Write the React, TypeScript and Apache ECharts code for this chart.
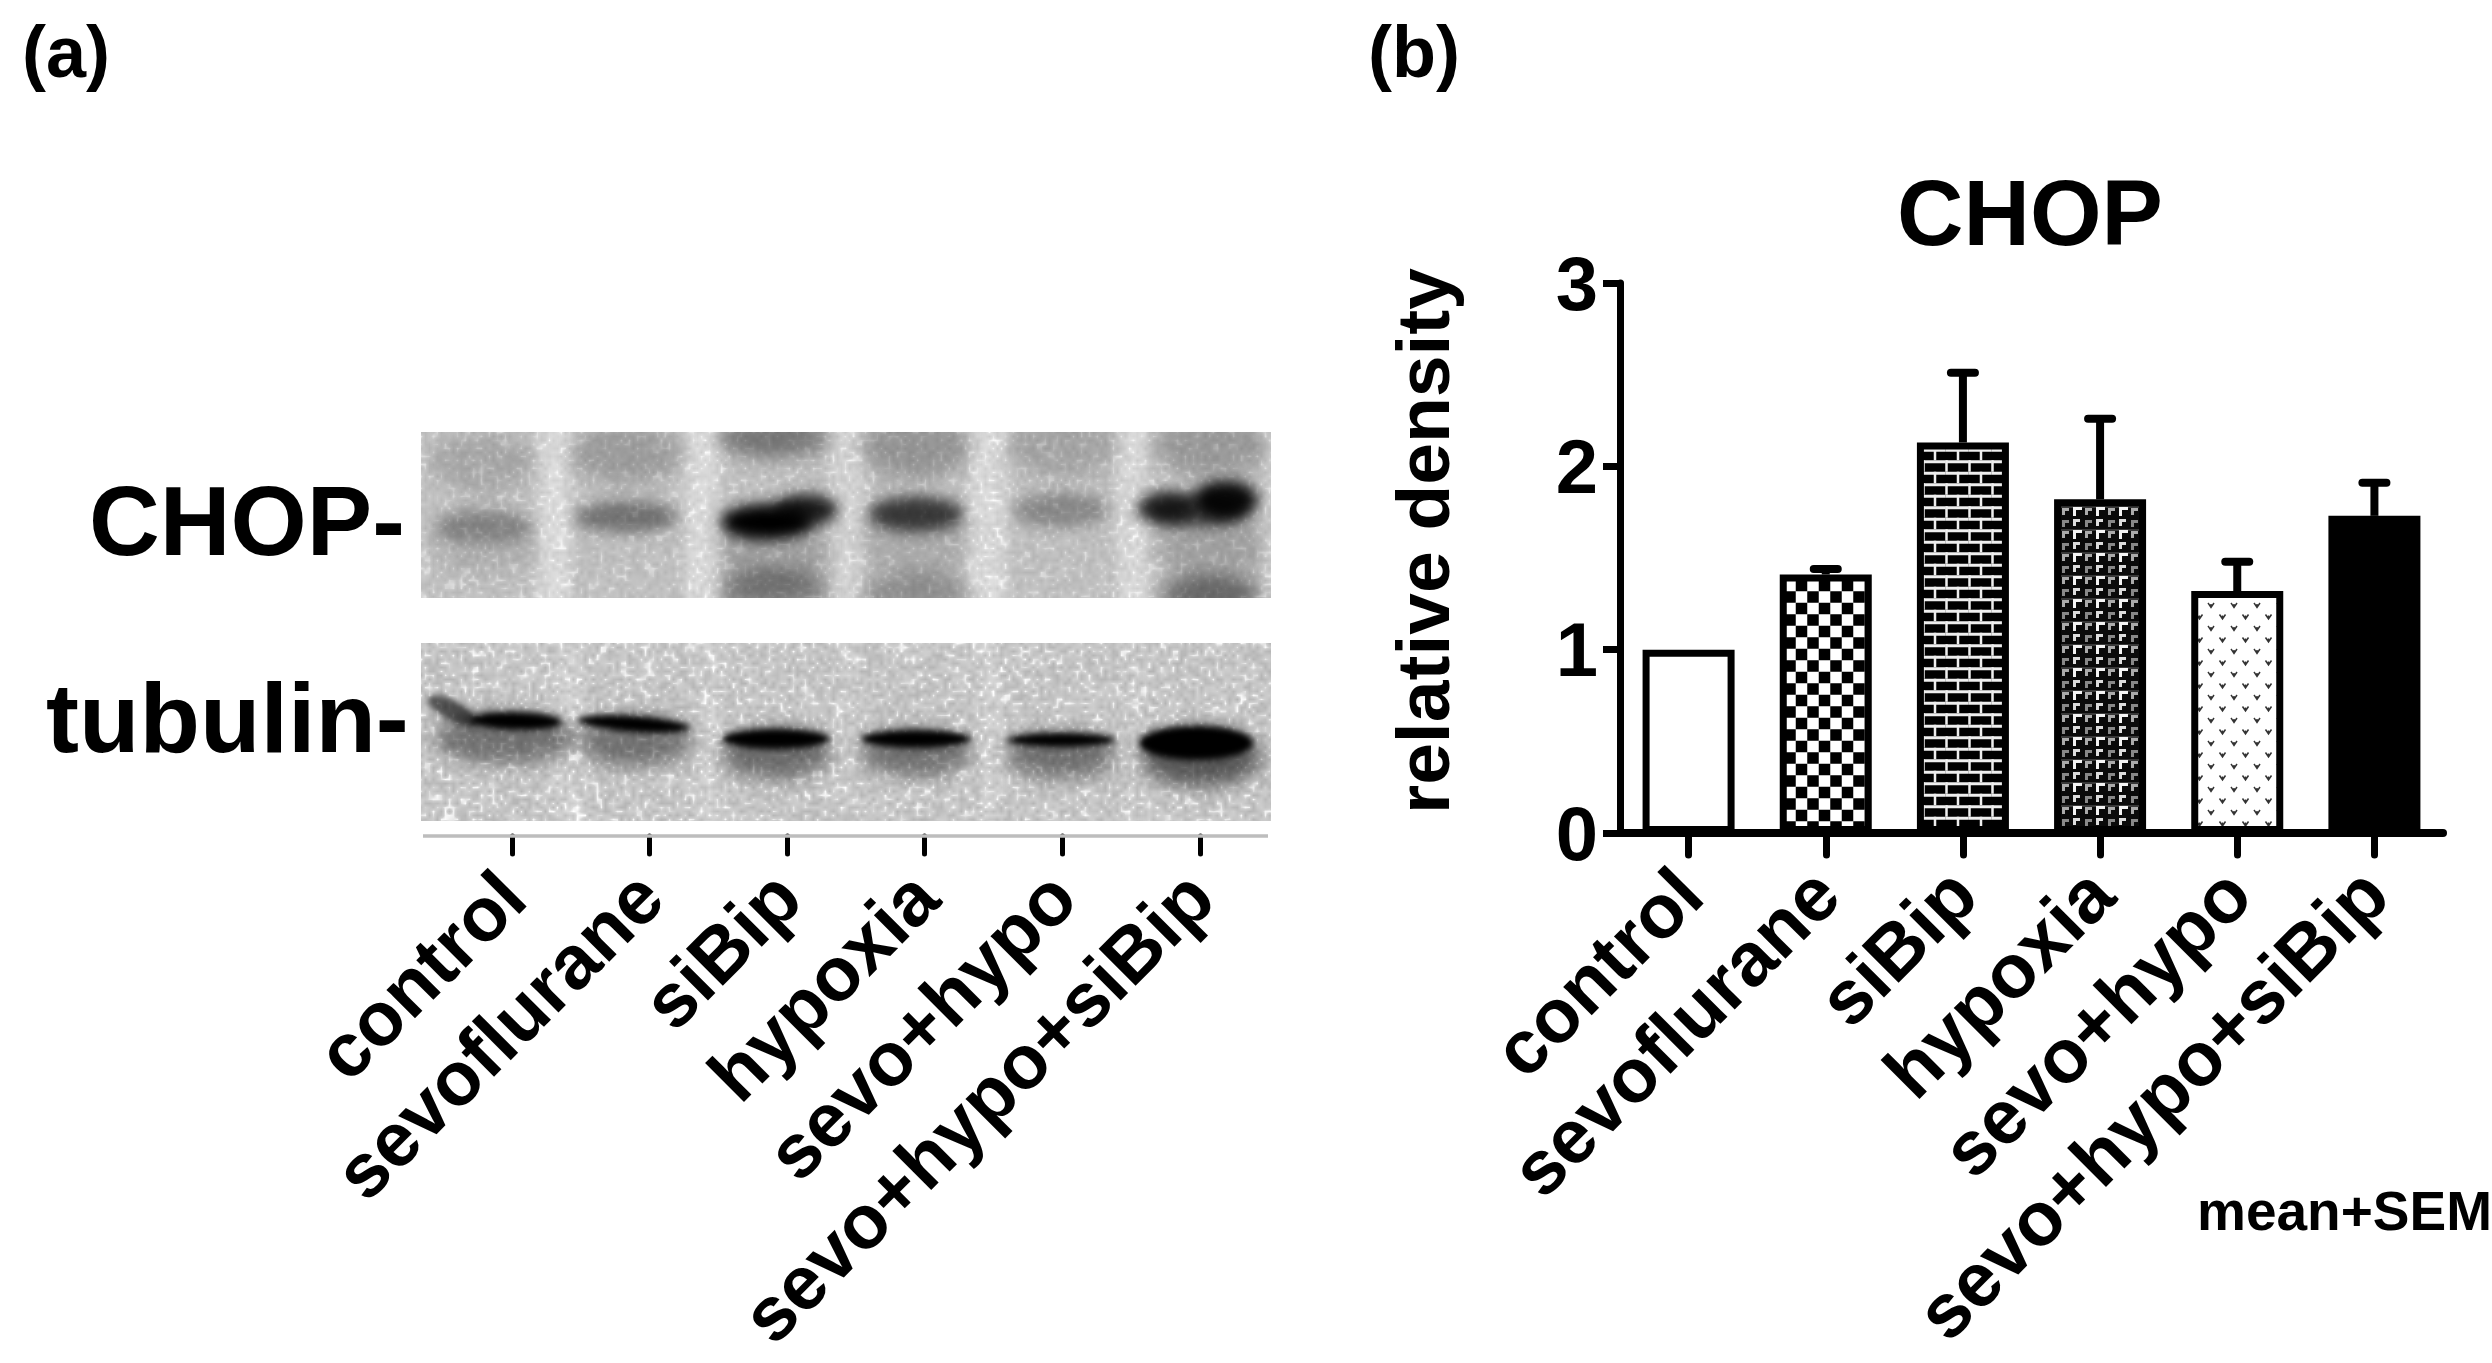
import React, { useEffect, useRef } from "react";
import * as echarts from "echarts";

const categories = ["control", "sevoflurane", "siBip", "hypoxia", "sevo+hypo", "sevo+hypo+siBip"];
const chopMeans = [1.0, 1.41, 2.13, 1.82, 1.32, 1.73];
const chopSem = [0, 0.03, 0.38, 0.44, 0.16, 0.18];
const yTicks = [0, 1, 2, 3];

// Estimated darkness (0..1) of the bands read from the two blots, one per lane.
const chopBandDarkness = [0.42, 0.6, 1, 0.8, 0.48, 0.95];
const tubulinBandDarkness = [1, 1, 1, 1, 1, 1];

const FONT = '"Liberation Sans", Arial, sans-serif';
const W = 2492;
const H = 1363;

type Blob = [number, number, number, number, number, number?];

function paintBlot(
  w: number,
  h: number,
  base: number,
  gaps: number[][],
  smears: Blob[],
  bands: Blob[],
  bandBlur: number,
  grain: number,
  seed: number
) {
  const c = document.createElement("canvas");
  c.width = w;
  c.height = h;
  const ctx = c.getContext("2d")!;
  ctx.fillStyle = `rgb(${base},${base},${base})`;
  ctx.fillRect(0, 0, w, h);
  ctx.filter = "blur(7px)";
  for (const [a, b, v] of gaps) {
    ctx.fillStyle = `rgba(235,235,235,${v})`;
    ctx.fillRect(a, -20, b - a, h + 40);
  }
  const ell = (blobs: Blob[], blur: number) => {
    for (const [x, y, rx, ry, alpha, tilt] of blobs) {
      ctx.filter = `blur(${blur}px)`;
      ctx.fillStyle = `rgba(0,0,0,${alpha})`;
      ctx.beginPath();
      ctx.ellipse(x, y, rx, ry, tilt || 0, 0, Math.PI * 2);
      ctx.fill();
    }
  };
  ell(smears, 9);
  ell(bands, bandBlur);
  ctx.filter = "none";
  // Deterministic film grain, purely a texture of the photographed blot.
  const img = ctx.getImageData(0, 0, w, h);
  const gw = Math.ceil(w / 4) + 2;
  const gh = Math.ceil(h / 4) + 2;
  const g = new Float32Array(gw * gh);
  let s = seed;
  for (let i = 0; i < g.length; i++) {
    s = (s * 1664525 + 1013904223) >>> 0;
    g[i] = s / 4294967296 - 0.5;
  }
  for (let y = 0; y < h; y++) {
    for (let x = 0; x < w; x++) {
      const fx = x / 4;
      const fy = y / 4;
      const ix = Math.floor(fx);
      const iy = Math.floor(fy);
      const tx = fx - ix;
      const ty = fy - iy;
      const n =
        g[iy * gw + ix] * (1 - tx) * (1 - ty) +
        g[iy * gw + ix + 1] * tx * (1 - ty) +
        g[(iy + 1) * gw + ix] * (1 - tx) * ty +
        g[(iy + 1) * gw + ix + 1] * tx * ty;
      const i = (y * w + x) * 4;
      const v = img.data[i];
      const k = v / 255;
      const d = n * grain * k + (n > 0.2 ? (n - 0.2) * grain * 3 * k : 0);
      const nv = Math.max(0, Math.min(255, v + d));
      img.data[i] = img.data[i + 1] = img.data[i + 2] = nv;
    }
  }
  ctx.putImageData(img, 0, 0);
  return c.toDataURL();
}

function chopBlot() {
  const d = chopBandDarkness;
  return paintBlot(
    850,
    166,
    193,
    [[117, 150, 0.6], [264, 300, 0.6], [410, 442, 0.45], [548, 586, 0.6], [697, 726, 0.6], [-10, 5, 0.2], [842, 860, 0.3]],
    [
      [62, 30, 52, 30, 0.12],
      [205, 22, 55, 30, 0.18],
      [352, 6, 55, 20, 0.38],
      [495, 15, 55, 32, 0.22],
      [640, 15, 55, 30, 0.14],
      [790, 15, 55, 30, 0.2],
      [352, 158, 55, 22, 0.34],
      [495, 162, 55, 22, 0.24],
      [790, 162, 50, 18, 0.46],
      [62, 110, 52, 35, 0.08],
      [352, 120, 55, 40, 0.16],
      [495, 110, 52, 40, 0.1],
      [790, 115, 52, 38, 0.16],
    ],
    [
      [62, 95, 48, 17, d[0] * 0.62],
      [205, 85, 52, 16, d[1] * 0.68],
      [345, 90, 46, 18, d[2]],
      [385, 78, 32, 16, 0.85 * d[2]],
      [495, 82, 48, 18, d[3] * 0.85],
      [640, 78, 48, 18, d[4] * 0.6],
      [745, 76, 30, 16, 0.72],
      [805, 68, 32, 20, d[5]],
      [775, 78, 50, 16, 0.6],
    ],
    7,
    30,
    12345
  );
}

function tubulinBlot() {
  const d = tubulinBandDarkness;
  return paintBlot(
    850,
    178,
    199,
    [[137, 160, 0.35], [281, 298, 0.35], [417, 437, 0.2], [560, 578, 0.3], [705, 720, 0.15]],
    [
      [85, 95, 72, 26, 0.42],
      [215, 98, 55, 26, 0.42],
      [355, 110, 55, 26, 0.45],
      [495, 110, 55, 24, 0.42],
      [640, 112, 55, 24, 0.42],
      [780, 114, 60, 30, 0.55],
    ],
    [
      [32, 68, 28, 10, 0.6, 0.5],
      [95, 78, 46, 9, d[0], 0.03],
      [213, 81, 56, 8, d[1], 0.07],
      [355, 96, 54, 10, d[2]],
      [495, 96, 55, 9, d[3]],
      [640, 97, 54, 7, d[4]],
      [775, 100, 57, 17, d[5]],
    ],
    3,
    48,
    98765
  );
}

function tile(
  size: number,
  ox: number,
  oy: number,
  bg: string,
  draw: (ctx: CanvasRenderingContext2D) => void
) {
  const c = document.createElement("canvas");
  c.width = size;
  c.height = size;
  const ctx = c.getContext("2d")!;
  ctx.fillStyle = bg;
  ctx.fillRect(0, 0, size, size);
  for (const dx of [-size, 0, size]) {
    for (const dy of [-size, 0, size]) {
      ctx.save();
      ctx.translate(ox + dx, oy + dy);
      draw(ctx);
      ctx.restore();
    }
  }
  return { image: c, imageWidth: size, imageHeight: size, repeat: "repeat" };
}

function barFills(): any[] {
  const checker = tile(23, 13.25, 16.25, "#fff", (ctx) => {
    ctx.fillStyle = "#000";
    ctx.fillRect(0, 0, 11.5, 11.5);
    ctx.fillRect(11.5, 11.5, 11.5, 11.5);
  });
  const brick = tile(23, 13.25, 0.25, "#000", (ctx) => {
    ctx.fillStyle = "#eee";
    ctx.fillRect(0, 0, 23, 3);
    ctx.fillRect(0, 11.5, 23, 3);
    ctx.fillRect(0, 0, 2.5, 11.5);
    ctx.fillRect(11.5, 11.5, 2.5, 11.5);
  });
  const gamma = (ctx: CanvasRenderingContext2D, x: number, y: number, s: number, t: number, col: string) => {
    ctx.fillStyle = col;
    ctx.fillRect(x, y, s, t);
    ctx.fillRect(x, y, t, s);
  };
  const weave = tile(23, 3, 1, "#0a0a0a", (ctx) => {
    ctx.fillStyle = "#666";
    ctx.fillRect(-3, -0.5, 23, 1);
    gamma(ctx, 0, 0, 9, 3, "#f4f4f4");
    gamma(ctx, 12, 1, 7, 3, "#aaa");
    gamma(ctx, 0, 12, 7, 3, "#ddd");
    gamma(ctx, 12, 13, 7, 3, "#888");
  });
  const mark = (ctx: CanvasRenderingContext2D, x: number, y: number) => {
    ctx.strokeStyle = "#333";
    ctx.lineWidth = 1.5;
    ctx.beginPath();
    ctx.moveTo(x - 3, y - 2);
    ctx.lineTo(x, y + 2.5);
    ctx.lineTo(x + 3, y - 2);
    ctx.moveTo(x, y - 1);
    ctx.lineTo(x, y + 2.5);
    ctx.stroke();
  };
  const hearts = tile(23, 3, 7, "#fff", (ctx) => {
    mark(ctx, 0, 0);
    mark(ctx, 11.5, 11.5);
  });
  return ["#fff", checker, brick, weave, hearts, "#000"];
}

const renderErrorBar = (params: any, api: any) => {
  const idx = api.value(0);
  const mean = api.value(1);
  const sem = api.value(2);
  if (!sem) return { type: "group", children: [] };
  const base = api.coord([idx, mean]);
  const top = api.coord([idx, mean + sem]);
  const style = { stroke: "#000", lineWidth: 8, lineCap: "round" };
  return {
    type: "group",
    children: [
      { type: "line", shape: { x1: base[0], y1: base[1], x2: top[0], y2: top[1] }, style: { ...style, lineCap: "butt" } },
      { type: "line", shape: { x1: top[0] - 12, y1: top[1], x2: top[0] + 12, y2: top[1] }, style },
    ],
  };
};

function buildOption() {
  const fills = barFills();
  const txt = (text: string, x: number, y: number, size: number) => ({
    type: "text",
    x,
    y,
    z: 10,
    style: {
      text,
      fill: "#000",
      font: `bold ${size}px ${FONT}`,
      textAlign: "left",
      textVerticalAlign: "middle",
    },
  });
  const labelStyle = {
    rotate: 45,
    interval: 0,
    margin: 48,
    color: "#000",
    fontFamily: FONT,
    fontWeight: "bold" as const,
    fontSize: 76,
    hideOverlap: false,
  };
  return {
    animation: false,
    backgroundColor: "#fff",
    title: {
      text: "CHOP",
      left: 2025,
      top: 162,
      textAlign: "center",
      textStyle: { color: "#000", fontFamily: FONT, fontWeight: "bold", fontSize: 92 },
    },
    grid: [
      { left: 443, top: 600, width: 825.6, height: 236, containLabel: false },
      { left: 1620, top: 283, width: 823, height: 550, containLabel: false },
    ],
    xAxis: [
      {
        type: "category",
        gridIndex: 0,
        data: categories,
        boundaryGap: true,
        axisLine: { show: false },
        axisTick: { show: true, alignWithLabel: true, length: 18, lineStyle: { color: "#000", width: 5, cap: "round" } },
        axisLabel: labelStyle,
      },
      {
        type: "category",
        gridIndex: 1,
        data: categories,
        boundaryGap: true,
        axisLine: { show: true, lineStyle: { color: "#000", width: 8 } },
        axisTick: { show: true, alignWithLabel: true, length: 22, lineStyle: { color: "#000", width: 7, cap: "round" } },
        axisLabel: labelStyle,
      },
    ],
    yAxis: [
      { type: "value", gridIndex: 0, min: 0, max: 1, show: false },
      {
        type: "value",
        gridIndex: 1,
        min: yTicks[0],
        max: yTicks[yTicks.length - 1],
        interval: 1,
        name: "relative density",
        nameLocation: "middle",
        nameGap: 160,
        nameRotate: 90,
        nameTextStyle: { color: "#000", fontFamily: FONT, fontWeight: "bold", fontSize: 75, padding: [0, 0, 0, 34] },
        splitLine: { show: false },
        axisLine: { show: true, lineStyle: { color: "#000", width: 7 } },
        axisTick: { show: true, length: 17, lineStyle: { color: "#000", width: 7 } },
        axisLabel: { margin: 22, color: "#000", fontFamily: FONT, fontWeight: "bold", fontSize: 76 },
      },
    ],
    series: [
      {
        type: "bar",
        xAxisIndex: 1,
        yAxisIndex: 1,
        barWidth: 92,
        z: 3,
        data: chopMeans.map((v, i) => ({
          value: v,
          itemStyle: { color: fills[i], borderColor: "#000", borderWidth: 7 },
        })),
      },
      {
        type: "custom",
        xAxisIndex: 1,
        yAxisIndex: 1,
        z: 2,
        renderItem: renderErrorBar,
        encode: { x: 0, y: 1 },
        data: chopMeans.map((m, i) => [i, m, chopSem[i]]),
      },
    ],
    graphic: [
      { type: "image", x: 421, y: 432, z: 1, style: { image: chopBlot(), x: 0, y: 0, width: 850, height: 166 } },
      { type: "image", x: 421, y: 643, z: 1, style: { image: tubulinBlot(), x: 0, y: 0, width: 850, height: 178 } },
      { type: "line", z: 1, shape: { x1: 423, y1: 836, x2: 1268, y2: 836 }, style: { stroke: "#bdbdbd", lineWidth: 3.5 } },
      txt("(a)", 22, 52, 72),
      txt("(b)", 1368, 52, 72),
      txt("CHOP-", 89, 521, 98),
      txt("tubulin-", 46, 717, 99),
      txt("mean+SEM", 2197, 1211, 55),
    ],
  };
}

export default function App() {
  const ref = useRef<HTMLDivElement>(null);
  useEffect(() => {
    const chart = echarts.init(ref.current!, undefined, { renderer: "svg" });
    chart.setOption(buildOption() as any);
    return () => chart.dispose();
  }, []);
  return (
    <div
      ref={ref}
      style={{ position: "fixed", left: 0, top: 0, width: W, height: H, background: "#fff", filter: "blur(0.7px)" }}
    />
  );
}
